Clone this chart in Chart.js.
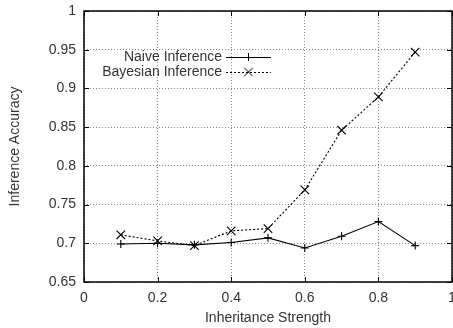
<!DOCTYPE html>
<html><head><meta charset="utf-8">
<script src="https://cdn.jsdelivr.net/npm/chart.js@4/dist/chart.umd.min.js"></script>
<style>html,body{margin:0;padding:0;background:#fff}#wrap{width:453px;height:328px}</style>
</head><body><div id="wrap"><canvas id="c" width="453" height="328"></canvas></div>
<script>
const strengths = [0.1,0.2,0.3,0.4,0.5,0.6,0.7,0.8,0.9];
const naive = [0.699,0.700,0.698,0.701,0.707,0.694,0.709,0.728,0.697];
const bayesian = [0.711,0.703,0.697,0.716,0.719,0.769,0.846,0.889,0.947];
const seriesNames = ['Naive Inference','Bayesian Inference'];
const xTicks = [0,0.2,0.4,0.6,0.8,1];
const yTicks = [0.65,0.7,0.75,0.8,0.85,0.9,0.95,1];
const xTitle = 'Inheritance Strength';
const yTitle = 'Inference Accuracy';
const FONT = '"Liberation Sans", Arial, sans-serif';

const legendPlugin = {
  id:'gpLegend',
  afterDatasetsDraw(chart){
    const ctx = chart.ctx;
    ctx.save();
    ctx.font = '14px ' + FONT;
    ctx.fillStyle = '#333';
    ctx.textAlign = 'right';
    ctx.textBaseline = 'middle';
    const rows = [57, 72];
    chart.data.datasets.forEach((ds,i)=>{
      const y = rows[i];
      ctx.fillText(ds.label, 222, y);
      ctx.strokeStyle = '#000';
      ctx.lineWidth = 1;
      ctx.setLineDash(ds.borderDash || []);
      ctx.beginPath(); ctx.moveTo(226, y+0.5); ctx.lineTo(271, y+0.5); ctx.stroke();
      ctx.setLineDash([]);
      const cx = 248.5, r = ds.pointRadius;
      ctx.beginPath();
      if (ds.pointStyle === 'cross') {
        ctx.moveTo(cx-r, y+0.5); ctx.lineTo(cx+r, y+0.5);
        ctx.moveTo(cx, y-r); ctx.lineTo(cx, y+r);
      } else {
        const d = r*0.707;
        ctx.moveTo(cx-d, y-d); ctx.lineTo(cx+d, y+d);
        ctx.moveTo(cx+d, y-d); ctx.lineTo(cx-d, y+d);
      }
      ctx.stroke();
    });
    ctx.restore();
  }
};

const tickPlugin = {
  id:'inTicks',
  afterDraw(chart){
    const {ctx, chartArea:a, scales:{x,y}} = chart;
    ctx.save();
    ctx.strokeStyle = '#000'; ctx.lineWidth = 1;
    ctx.beginPath();
    yTicks.forEach(v=>{
      const py = Math.round(y.getPixelForValue(v))+0.5;
      ctx.moveTo(a.left, py); ctx.lineTo(a.left+5, py);
      ctx.moveTo(a.right, py); ctx.lineTo(a.right-5, py);
    });
    xTicks.forEach(v=>{
      const px = Math.round(x.getPixelForValue(v))+0.5;
      ctx.moveTo(px, a.bottom); ctx.lineTo(px, a.bottom-5);
      ctx.moveTo(px, a.top); ctx.lineTo(px, a.top+5);
    });
    ctx.stroke();
    ctx.lineWidth = 1.5;
    ctx.strokeRect(a.left, a.top, a.right-a.left, a.bottom-a.top);
    ctx.restore();
  }
};

new Chart(document.getElementById('c'), {
  type:'line',
  data:{
    datasets:[
      {label:seriesNames[0], data:strengths.map((s,i)=>({x:s,y:naive[i]})),
       borderColor:'#000', backgroundColor:'#000', borderWidth:1.1,
       pointStyle:'cross', pointRadius:4, pointBorderWidth:1.1, pointBorderColor:'#000', tension:0},
      {label:seriesNames[1], data:strengths.map((s,i)=>({x:s,y:bayesian[i]})),
       borderColor:'#000', backgroundColor:'#000', borderWidth:1.1, borderDash:[2,2],
       pointStyle:'crossRot', pointRadius:6, pointBorderWidth:1.1, pointBorderColor:'#000', tension:0}
    ]
  },
  options:{
    responsive:false, animation:false, devicePixelRatio:1,
    layout:{autoPadding:false, padding:{top:11,right:1,left:0,bottom:0}},
    plugins:{legend:{display:false}, tooltip:{enabled:false}},
    scales:{
      x:{type:'linear', min:0, max:1,
         afterBuildTicks(s){ s.ticks = xTicks.map(v=>({value:v})); },
         afterFit(s){ s.height = 46; s.paddingLeft = 0; s.paddingRight = 0; },
         ticks:{font:{family:FONT,size:14}, color:'#333', padding:8, maxRotation:0,
                callback:v=>String(Math.round(v*10)/10)},
         grid:{color:'#888', lineWidth:1, drawTicks:false},
         border:{display:false, dash:[1,2]},
         title:{display:true, text:xTitle, font:{family:FONT,size:14}, color:'#333', padding:{top:4,bottom:1}}
      },
      y:{type:'linear', min:0.65, max:1,
         afterBuildTicks(s){ s.ticks = yTicks.map(v=>({value:v})); },
         afterFit(s){ s.width = 84; s.paddingTop = 0; s.paddingBottom = 0; },
         ticks:{font:{family:FONT,size:14}, color:'#333', padding:8,
                callback:v=>String(Math.round(v*100)/100)},
         grid:{color:'#888', lineWidth:1, drawTicks:false},
         border:{display:false, dash:[1,2]},
         title:{display:true, text:yTitle, font:{family:FONT,size:14}, color:'#333', padding:{top:7,bottom:4}}
      }
    }
  },
  plugins:[legendPlugin, tickPlugin]
});
</script></body></html>
